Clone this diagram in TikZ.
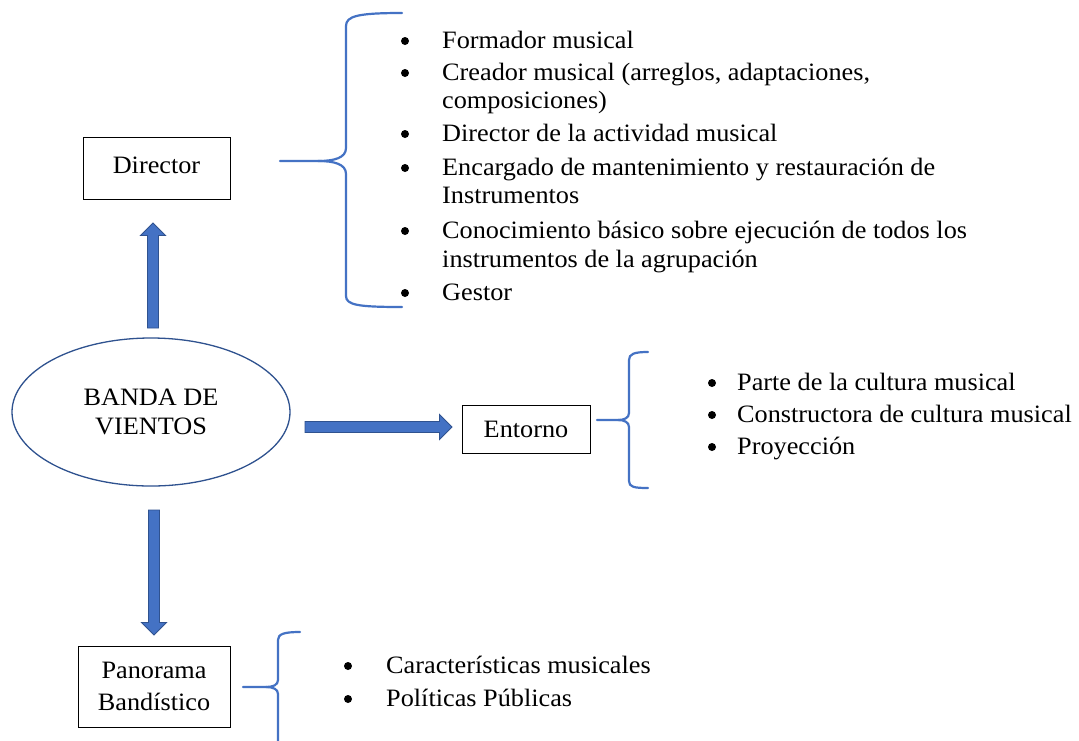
\documentclass[tikz,border=0pt]{standalone}
\usepackage{fontspec}
\setmainfont{Liberation Serif}[FakeStretch=1.05]
\usetikzlibrary{calc,shapes.geometric}
\definecolor{ablue}{HTML}{4472C4}
\definecolor{adark}{HTML}{2F528F}
\tikzset{
  txt/.style={font=\fontsize{25}{30}\selectfont, inner sep=0pt},
  item/.style={txt, anchor=base west},
  bul/.style={circle, fill=black, inner sep=0pt, minimum size=8pt},
  boxnode/.style={draw=black, line width=0.9pt, txt, align=center},
  brace/.style={draw=ablue, line width=2.2pt, line cap=round, line join=round},
  blockarrow/.style={fill=ablue, draw=adark, line width=0.9pt, line join=miter,
    to path={
      ($(\tikztotarget)!12.5pt!(\tikztostart)$) coordinate (bah)
      ($(\tikztostart)!5.5pt!-90:(\tikztotarget)$)
      -- ($(bah)!5.5pt!90:(\tikztostart)$)
      -- ($(bah)!12.5pt!90:(\tikztostart)$)
      -- (\tikztotarget)
      -- ($(bah)!12.5pt!-90:(\tikztostart)$)
      -- ($(bah)!5.5pt!-90:(\tikztostart)$)
      -- ($(\tikztostart)!5.5pt!90:(\tikztotarget)$)
      -- cycle}}
}
\begin{document}
\begin{tikzpicture}[x=1pt,y=-1pt]
\fill[white] (0,0) rectangle (1079,740);
\useasboundingbox (0,0) rectangle (1079,740);

% main nodes
\node[ellipse, draw=adark, line width=1.3pt, minimum width=278pt, minimum height=148pt, inner sep=0pt,
      txt, align=center] (band) at (151,412) {\raisebox{-3pt}{BANDA DE}\\[-1pt]\raisebox{-3pt}{VIENTOS}};
\node[boxnode, minimum width=147pt, minimum height=62pt] (dir) at (156.5,168) {\raisebox{5pt}{Director}};
\node[boxnode, minimum width=128pt, minimum height=48pt] (ent) at (526,429) {Entorno};
\node[boxnode, minimum width=152pt, minimum height=81pt] (pan) at (154,686.5)
      {Panorama\\[2pt]Band\'istico};

% block arrows
\coordinate (upS) at (153,328);
\coordinate (upT) at (153,223);
\coordinate (rtS) at (305,427);
\coordinate (rtT) at (452,427);
\coordinate (dnS) at (154,510);
\coordinate (dnT) at (154,635);
\path[blockarrow] (upS) to (upT);
\path[blockarrow] (rtS) to (rtT);
\path[blockarrow] (dnS) to (dnT);

% braces
\coordinate (dbT) at (280,161);
\coordinate (dbM) at (318,161);
\draw[brace] (dbT) -- (dbM) .. controls (334,161) and (346,158) .. (346,148) -- (346,26)
  .. controls (346,16) and (358,13) .. (402,13);
\draw[brace] (dbM) .. controls (334,161) and (346,164) .. (346,174) -- (346,296)
  .. controls (346,305) and (358,307) .. (402,307);

\coordinate (ebT) at (597,420);
\coordinate (ebM) at (618,420);
\draw[brace] (ebT) -- (ebM) .. controls (624,420) and (629,418) .. (629,413) -- (629,360)
  .. controls (629,354) and (634,352) .. (648,352);
\draw[brace] (ebM) .. controls (624,420) and (629,422) .. (629,427) -- (629,481)
  .. controls (629,487) and (634,488) .. (648,488);

\coordinate (pbT) at (243,687);
\coordinate (pbM) at (266,687);
\draw[brace] (pbT) -- (pbM) .. controls (273,687) and (278,685) .. (278,680) -- (278,640)
  .. controls (278,634) and (284,632) .. (300,632);
\draw[brace] (pbM) .. controls (273,687) and (278,689) .. (278,694) -- (278,742);

% director list
\node[bul] (b1) at (405,41) {};
\node[item] (t1) at (442,48) {Formador musical};
\node[bul] (b2) at (405,73) {};
\node[item] (t2a) at (442,80) {Creador musical (arreglos, adaptaciones,};
\node[item] (t2b) at (442,108) {composiciones)};
\node[bul] (b3) at (405,134) {};
\node[item] (t3) at (442,141) {Director de la actividad musical};
\node[bul] (b4) at (405,168) {};
\node[item] (t4a) at (442,175) {Encargado de mantenimiento y restauraci\'on de};
\node[item] (t4b) at (442,203) {Instrumentos};
\node[bul] (b5) at (405,231) {};
\node[item] (t5a) at (442,238) {Conocimiento b\'asico sobre ejecuci\'on de todos los};
\node[item] (t5b) at (442,267) {instrumentos de la agrupaci\'on};
\node[bul] (b6) at (405,293) {};
\node[item] (t6) at (442,300) {Gestor};

% entorno list
\node[bul] (e1) at (712,383) {};
\node[item] (f1) at (737,390) {Parte de la cultura musical};
\node[bul] (e2) at (712,415) {};
\node[item] (f2) at (737,422) {Constructora de cultura musical};
\node[bul] (e3) at (712,447) {};
\node[item] (f3) at (737,454) {Proyecci\'on};

% panorama list
\node[bul] (p1) at (348,666) {};
\node[item] (q1) at (386,673) {Caracter\'isticas musicales};
\node[bul] (p2) at (348,699) {};
\node[item] (q2) at (386,706) {Pol\'iticas P\'ublicas};
\end{tikzpicture}
\end{document}
